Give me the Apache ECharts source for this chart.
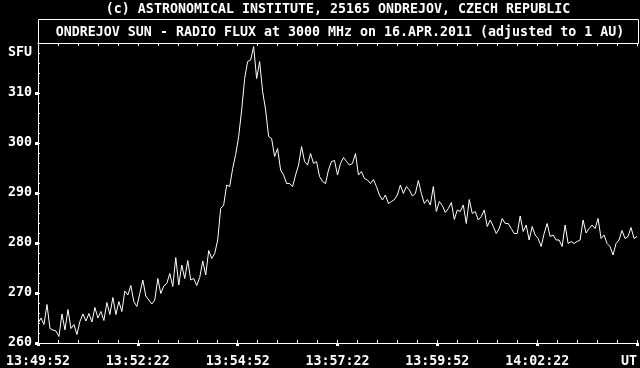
<!DOCTYPE html>
<html>
<head>
<meta charset="utf-8">
<script src="https://cdn.jsdelivr.net/npm/echarts@6/dist/echarts.min.js"></script>
<style>
html,body{margin:0;padding:0;background:#000;}
#c{width:640px;height:368px;}
</style>
</head>
<body>
<div id="c"></div>
<script>
// ---- data ----
const topTitle = "(c) ASTRONOMICAL INSTITUTE, 25165 ONDREJOV, CZECH REPUBLIC";
const boxTitle = "ONDREJOV SUN - RADIO FLUX at 3000 MHz on 16.APR.2011 (adjusted to 1 AU)";
const startTime = "13:49:52";          // UT at left edge
const stepSeconds = 4.5;                // sample spacing
const xTickLabels = ["13:49:52","13:52:22","13:54:52","13:57:22","13:59:52","14:02:22","UT"];
const yTickLabels = ["260","270","280","290","300","310"];
const yUnitLabel = "SFU";

const fluxPart1 = [263.9,265.0,263.7,267.7,262.9,262.6,262.4,261.3,265.8,262.6,266.7,262.9,263.7,261.7,264.3,265.8,264.4,265.9,264.2,267.1,265.0,266.3,264.5,268.1,265.7,269.1,265.7,268.3,266.3,270.4,269.6,271.5,268.3,267.3,269.9];
const fluxPart2 = [272.6,269.4,268.6,267.8,268.6,272.9,269.9,271.4,271.9,273.9,271.3,277.1,271.6,275.6,272.9,276.5,272.6,272.9,271.5,273.1,276.4,273.6,278.5,276.9,277.9,280.6];
const fluxPart3 = [286.9,287.6,291.6,291.3,294.9,297.7,301.3,306.6,312.9,316.3,316.6,319.3,312.9,316.3,310.3,306.6,301.3,300.9,297.3,298.9,294.6,293.6,291.9];
const fluxPart4 = [291.9,291.3,293.6,295.6,299.3,296.3,295.6,297.9,295.9,296.3,293.3,292.3,291.9,294.6,296.3,296.5,293.6,295.9,297.1,296.3,295.6,295.9,297.9,293.6,294.3,292.9,292.6,291.9,292.7];
const fluxPart5 = [291.3,289.6,288.6,289.6,287.9,288.3,288.7,289.6,291.6,289.9,291.3,290.6,289.4,289.9,292.5,289.9,287.9,288.7,287.6,291.3,286.3,288.3,287.5,286.1,286.9,288.1,284.7,286.6,286.3];
const fluxPart6 = [287.6,283.9,288.7,285.9,286.3,284.6,285.3,286.6,283.3,284.6,283.3,281.9,282.9,284.9,283.9,283.9,282.9,281.9,281.9,285.4,282.3,283.6,280.6,283.3,281.6,280.9,279.3,281.9,283.9,281.3];
const fluxPart7 = [281.6,280.6,280.6,279.3,283.6,279.9,280.3,279.9,280.3,280.6,284.6,282.0,282.9,283.6,282.9,284.9,280.9,281.6,279.9,279.3,277.6,279.9,280.6,282.5,280.9,281.3,283.1,280.9,281.3];

const flux = [].concat(fluxPart1, fluxPart2, fluxPart3, fluxPart4, fluxPart5, fluxPart6, fluxPart7);
const seriesData = flux.map((v, i) => [i * stepSeconds, v]);

// ---- chart ----
const FONT = "'DejaVu Sans Mono', 'Liberation Mono', monospace";
const FS = 13.3;
const W = '#ffffff';
const chart = echarts.init(document.getElementById('c'), null, {renderer: 'canvas'});

const xMax = 900;
const xMajor = 150;
function xLabel(v) {
  const idx = Math.round(v / xMajor);
  return xTickLabels[idx] !== undefined ? xTickLabels[idx] : '';
}
function yLabel(v) {
  const idx = Math.round((v - 260) / 10);
  return (v % 10 === 0 && yTickLabels[idx] !== undefined) ? yTickLabels[idx] : '';
}

const labelStyle = {color: W, fontFamily: FONT, fontSize: FS, fontWeight: 'bold'};

chart.setOption({
  backgroundColor: '#000',
  animation: false,
  grid: {left: 38, right: 2, top: 43, bottom: 25, containLabel: false},
  graphic: [
    {type: 'rect', shape: {x: 38.5, y: 19.5, width: 600, height: 24}, style: {fill: null, stroke: W, lineWidth: 1}, silent: true},
    {type: 'text', x: 338, y: 9.5, style: {text: topTitle, align: 'center', verticalAlign: 'middle', fill: W, font: 'bold ' + FS + 'px ' + FONT}},
    {type: 'text', x: 340, y: 33, style: {text: boxTitle, align: 'center', verticalAlign: 'middle', fill: W, font: 'bold ' + FS + 'px ' + FONT}}
  ],
  xAxis: [
    { // labels + major ticks
      type: 'value', min: 0, max: xMax, interval: xMajor, position: 'bottom',
      axisLine: {show: true, lineStyle: {color: W, width: 1}},
      axisTick: {show: true, inside: false, length: 3, lineStyle: {color: W, width: 3}},
      axisLabel: Object.assign({show: true, margin: 12, formatter: xLabel, alignMaxLabel: 'right', showMaxLabel: true, showMinLabel: true}, labelStyle),
      splitLine: {show: false}
    },
    { // minor ticks bottom
      type: 'value', min: 0, max: xMax, interval: 30, position: 'bottom',
      axisLine: {show: false},
      axisTick: {show: true, inside: true, length: 3, lineStyle: {color: W, width: 1}},
      axisLabel: {show: false}, splitLine: {show: false}
    },
    { // top frame
      type: 'value', min: 0, max: xMax, interval: 30, position: 'top',
      axisLine: {show: true, lineStyle: {color: W, width: 1}},
      axisTick: {show: true, inside: true, length: 3, lineStyle: {color: W, width: 1}},
      axisLabel: {show: false}, splitLine: {show: false}
    }
  ],
  yAxis: [
    { // labels + major ticks
      type: 'value', min: 260, max: 320, interval: 10, position: 'left',
      axisLine: {show: true, lineStyle: {color: W, width: 1}},
      axisTick: {show: true, inside: false, length: 3, lineStyle: {color: W, width: 3}},
      axisLabel: Object.assign({show: true, margin: 6, padding: [4, 0, 0, 0], formatter: yLabel, showMaxLabel: false}, labelStyle),
      splitLine: {show: false}
    },
    { // minor ticks + unit label
      type: 'value', min: 260, max: 320, interval: 2, position: 'left',
      axisLine: {show: false},
      axisTick: {show: true, inside: true, length: 2, lineStyle: {color: W, width: 1}},
      axisLabel: Object.assign({show: true, margin: 6, padding: [4, 0, 0, 0], formatter: v => (v === 318 ? yUnitLabel : '')}, labelStyle),
      splitLine: {show: false}
    },
    { // right frame
      type: 'value', min: 260, max: 320, interval: 10, position: 'right',
      axisLine: {show: true, lineStyle: {color: W, width: 1}},
      axisTick: {show: false}, axisLabel: {show: false}, splitLine: {show: false}
    }
  ],
  series: [{
    type: 'line', xAxisIndex: 0, yAxisIndex: 0,
    data: seriesData, showSymbol: false, symbol: 'none',
    lineStyle: {color: W, width: 1}, silent: true
  }]
});
</script>
</body>
</html>
